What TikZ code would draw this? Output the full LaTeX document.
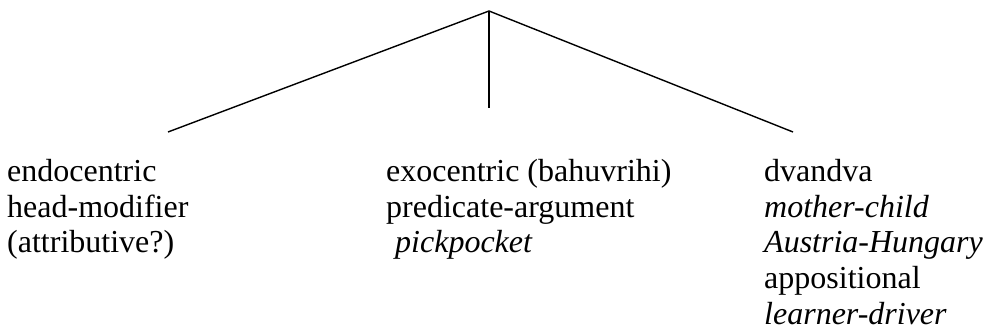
\documentclass[tikz,border=0pt]{standalone}
\usepackage{fontspec}
\setmainfont{Liberation Serif}
\begin{document}
\begin{tikzpicture}[x=1pt,y=-1pt,
  lbl/.style={anchor=base west,inner sep=0pt,font=\fontsize{32}{36}\selectfont},
  branch/.style={line width=1.4pt,line cap=butt}]
\useasboundingbox (0,0) rectangle (987,336);
\coordinate (apex) at (489,11);
\coordinate (lend) at (168,132);
\coordinate (mend) at (489,108);
\coordinate (rend) at (793,132);
\draw[branch] (lend) -- (apex) -- (rend);
\draw[branch] (apex) -- (mend);
% left column
\node[lbl] (l1) at (7,182) {endocentric};
\node[lbl] (l2) at (7,217.5) {head-modifier};
\node[lbl] (l3) at (7,253) {(attributive?)};
% middle column
\node[lbl] (m1) at (386,182) {exocentric (bahuvrihi)};
\node[lbl] (m2) at (386,217.5) {predicate-argument};
\node[lbl] (m3) at (395,253) {\itshape pickpocket};
% right column
\node[lbl] (r1) at (764,182) {dvandva};
\node[lbl] (r2) at (764,217.5) {\itshape mother-child};
\node[lbl] (r3) at (764,253) {\itshape Austria-Hungary};
\node[lbl] (r4) at (764,288.5) {appositional};
\node[lbl] (r5) at (764,324) {\itshape learner-driver};
\end{tikzpicture}
\end{document}
